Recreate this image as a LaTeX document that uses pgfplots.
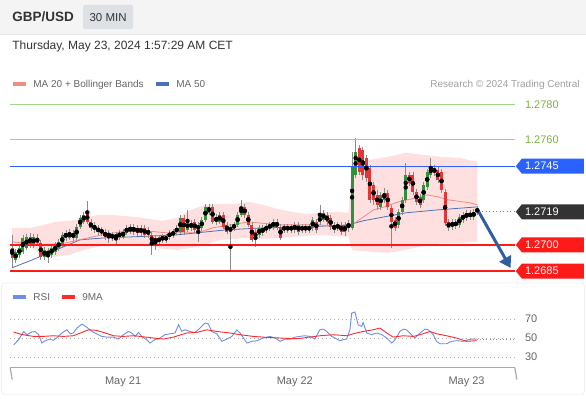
\documentclass[border=0pt]{standalone}
\usepackage{pgfplots}
\pgfplotsset{compat=1.18}
\usepackage{pgfplotstable}
\usetikzlibrary{arrows.meta}
\usepackage{fontspec}
\setmainfont{Liberation Sans}
\newcommand\fs[1]{\fontsize{#1}{#1}\selectfont}
\definecolor{hdrbg}{HTML}{F4F4F4}
\definecolor{panel}{HTML}{E4E8ED}
\definecolor{txtdark}{HTML}{333333}
\definecolor{txtgray}{HTML}{666666}
\definecolor{txtlight}{HTML}{A0A0A0}
\definecolor{tagbg}{HTML}{DDE1E6}
\definecolor{greenline}{HTML}{A0D585}
\definecolor{greentxt}{HTML}{7CB342}
\definecolor{levelblue}{HTML}{2962FF}
\definecolor{levelred}{HTML}{FF1A1A}
\definecolor{tagdark}{HTML}{333333}
\definecolor{candG}{HTML}{2F923A}
\definecolor{candR}{HTML}{E23636}
\definecolor{wick}{HTML}{8A8A8A}
\definecolor{bandfill}{HTML}{FFE0E0}
\definecolor{maTwenty}{HTML}{F28B82}
\definecolor{maFifty}{HTML}{4A72B8}
\definecolor{arrowblue}{HTML}{2E5FA3}
\definecolor{rsiblue}{HTML}{6D8FE8}
\definecolor{rsired}{HTML}{FF2A2A}
\definecolor{gridcol}{HTML}{B0B0B0}
\definecolor{axisgray}{HTML}{AAAAAA}

\pgfplotstableread{
i o h l c
0 1.26983 1.27057 1.26874 1.26926
1 1.26914 1.26977 1.26897 1.26960
2 1.26943 1.27000 1.26926 1.26983
3 1.26960 1.27057 1.26949 1.27040
4 1.26983 1.27063 1.26971 1.27046
5 1.27046 1.27069 1.26983 1.27000
6 1.27000 1.27063 1.26983 1.27046
7 1.27040 1.27063 1.26994 1.27011
8 1.27011 1.27029 1.26914 1.26931
9 1.26931 1.26989 1.26914 1.26971
10 1.26966 1.26983 1.26897 1.26943
11 1.26943 1.27000 1.26926 1.26983
12 1.26960 1.27017 1.26943 1.27000
13 1.26983 1.27034 1.26966 1.27017
14 1.27000 1.27074 1.26989 1.27057
15 1.27069 1.27086 1.27023 1.27040
16 1.27040 1.27091 1.27029 1.27074
17 1.27069 1.27086 1.27023 1.27040
18 1.27040 1.27120 1.27029 1.27103
19 1.27103 1.27171 1.27091 1.27154
20 1.27131 1.27189 1.27120 1.27171
21 1.27183 1.27251 1.27120 1.27131
22 1.27131 1.27149 1.27080 1.27097
23 1.27086 1.27131 1.27069 1.27114
24 1.27097 1.27114 1.27057 1.27074
25 1.27069 1.27103 1.27051 1.27086
26 1.27074 1.27091 1.27029 1.27046
27 1.27069 1.27086 1.27011 1.27046
28 1.27040 1.27074 1.27023 1.27057
29 1.27057 1.27074 1.27000 1.27040
30 1.27046 1.27086 1.27029 1.27069
31 1.27046 1.27091 1.27034 1.27074
32 1.27069 1.27114 1.27057 1.27097
33 1.27074 1.27120 1.27063 1.27103
34 1.27103 1.27120 1.27057 1.27074
35 1.27097 1.27114 1.27051 1.27069
36 1.27069 1.27114 1.27051 1.27097
37 1.27097 1.27114 1.27040 1.27057
38 1.27086 1.27103 1.27040 1.27057
39 1.27057 1.27074 1.26943 1.27011
40 1.27040 1.27057 1.26971 1.27011
41 1.27017 1.27057 1.27000 1.27040
42 1.27029 1.27063 1.27011 1.27046
43 1.27046 1.27063 1.27011 1.27029
44 1.27046 1.27086 1.27029 1.27069
45 1.27057 1.27091 1.27040 1.27074
46 1.27074 1.27114 1.27057 1.27097
47 1.27074 1.27171 1.27063 1.27154
48 1.27154 1.27171 1.27057 1.27074
49 1.27086 1.27200 1.27074 1.27131
50 1.27126 1.27143 1.27080 1.27097
51 1.27131 1.27149 1.27069 1.27086
52 1.27114 1.27131 1.27017 1.27086
53 1.27097 1.27160 1.27080 1.27143
54 1.27143 1.27234 1.27131 1.27217
55 1.27183 1.27234 1.27171 1.27217
56 1.27217 1.27234 1.27120 1.27131
57 1.27160 1.27177 1.27114 1.27131
58 1.27131 1.27189 1.27120 1.27171
59 1.27171 1.27189 1.27091 1.27103
60 1.27114 1.27131 1.27063 1.27074
61 1.27103 1.27120 1.26857 1.27074
62 1.27097 1.27131 1.27080 1.27114
63 1.27114 1.27189 1.27103 1.27171
64 1.27171 1.27257 1.27160 1.27217
65 1.27217 1.27234 1.27154 1.27171
66 1.27171 1.27189 1.27103 1.27114
67 1.27114 1.27131 1.27017 1.27029
68 1.27074 1.27091 1.26989 1.27040
69 1.27057 1.27114 1.27040 1.27097
70 1.27069 1.27114 1.27051 1.27097
71 1.27086 1.27120 1.27069 1.27103
72 1.27097 1.27131 1.27080 1.27114
73 1.27103 1.27149 1.27086 1.27131
74 1.27131 1.27149 1.27086 1.27103
75 1.27103 1.27120 1.27029 1.27040
76 1.27086 1.27120 1.27069 1.27103
77 1.27103 1.27120 1.27069 1.27086
78 1.27086 1.27120 1.27069 1.27103
79 1.27086 1.27131 1.27069 1.27114
80 1.27114 1.27131 1.27057 1.27074
81 1.27086 1.27120 1.27069 1.27103
82 1.27103 1.27120 1.27069 1.27086
83 1.27103 1.27120 1.27069 1.27086
84 1.27097 1.27160 1.27080 1.27143
85 1.27131 1.27149 1.27069 1.27086
86 1.27131 1.27229 1.27114 1.27160
87 1.27143 1.27200 1.27131 1.27183
88 1.27171 1.27189 1.27114 1.27131
89 1.27154 1.27171 1.27086 1.27103
90 1.27114 1.27131 1.27069 1.27086
91 1.27097 1.27131 1.27080 1.27114
92 1.27114 1.27131 1.27057 1.27074
93 1.27114 1.27131 1.27051 1.27074
94 1.27097 1.27143 1.27074 1.27126
95 1.27097 1.27531 1.27086 1.27446
96 1.27400 1.27611 1.27383 1.27531
97 1.27554 1.27571 1.27400 1.27417
98 1.27543 1.27560 1.27371 1.27400
99 1.27497 1.27514 1.27360 1.27383
100 1.27440 1.27457 1.27240 1.27257
101 1.27343 1.27360 1.27229 1.27257
102 1.27286 1.27314 1.27200 1.27229
103 1.27217 1.27303 1.27200 1.27286
104 1.27257 1.27326 1.27240 1.27297
105 1.27297 1.27314 1.27200 1.27217
106 1.27211 1.27229 1.26983 1.27131
107 1.27143 1.27160 1.27080 1.27097
108 1.27114 1.27206 1.27097 1.27189
109 1.27189 1.27274 1.27171 1.27257
110 1.27257 1.27469 1.27240 1.27400
111 1.27400 1.27417 1.27337 1.27354
112 1.27400 1.27417 1.27286 1.27303
113 1.27303 1.27320 1.27229 1.27246
114 1.27274 1.27291 1.27211 1.27229
115 1.27257 1.27360 1.27240 1.27343
116 1.27331 1.27434 1.27314 1.27417
117 1.27400 1.27497 1.27383 1.27446
118 1.27440 1.27457 1.27394 1.27411
119 1.27429 1.27446 1.27354 1.27371
120 1.27417 1.27434 1.27297 1.27314
121 1.27303 1.27320 1.27109 1.27126
122 1.27131 1.27149 1.27080 1.27097
123 1.27103 1.27149 1.27086 1.27131
124 1.27131 1.27149 1.27091 1.27109
125 1.27114 1.27177 1.27097 1.27160
126 1.27143 1.27189 1.27126 1.27171
127 1.27154 1.27200 1.27137 1.27183
128 1.27183 1.27200 1.27143 1.27160
129 1.27160 1.27206 1.27143 1.27189
130 1.27206 1.27223 1.27171 1.27189
}\candles

\pgfplotstableread{
i v
0 1.26869
5 1.26909
9 1.26943
14 1.26986
19 1.27029
26 1.27040
34 1.27046
46 1.27057
60 1.27086
70 1.27097
83 1.27103
94 1.27114
98 1.27137
104 1.27160
110 1.27183
119 1.27200
130 1.27217
}\maFiftyTab

\pgfplotstableread{
i v
0 1.27017
9 1.27000
15 1.27011
20 1.27034
25 1.27057
34 1.27086
43 1.27069
52 1.27069
56 1.27097
61 1.27114
66 1.27131
75 1.27114
86 1.27114
92 1.27103
95 1.27114
97 1.27143
101 1.27200
104 1.27217
108 1.27246
113 1.27269
116 1.27286
119 1.27274
122 1.27257
128 1.27240
130 1.27229
}\maTwentyTab

% Bollinger band outline: upper band left to right, then lower band right to left
\pgfplotstableread{
i v
0 1.27097
5 1.27097
8 1.27109
12 1.27131
16 1.27137
20 1.27154
24 1.27171
28 1.27171
34 1.27160
38 1.27149
42 1.27137
46 1.27154
50 1.27200
54 1.27229
58 1.27234
62 1.27234
66 1.27246
70 1.27229
74 1.27206
78 1.27189
82 1.27177
86 1.27183
90 1.27189
94 1.27183
95 1.27457
100 1.27486
105 1.27503
110 1.27526
115 1.27514
120 1.27503
125 1.27497
130 1.27474
130 1.27017
125 1.27011
120 1.27011
115 1.26994
110 1.26971
105 1.26954
100 1.26960
95 1.26971
94 1.27046
90 1.27051
86 1.27057
82 1.27051
78 1.27046
74 1.27040
70 1.27034
66 1.27040
62 1.27034
58 1.27029
54 1.27000
50 1.26983
46 1.26971
42 1.26977
38 1.27000
34 1.27006
28 1.27006
24 1.26989
20 1.26971
16 1.26943
12 1.26931
8 1.26943
5 1.26994
0 1.27011
}\bandPoly

\pgfplotstableread{
i v
0.4 42.9
1.8 48.2
3.2 56.9
4.1 53.5
5.5 56.3
6.4 56.9
7.4 53.5
8.3 44.7
9.2 47.2
10.6 48.9
11.5 47.5
12.9 51.7
13.9 55.3
15.3 58.7
16.2 54.5
17.1 55.3
18.1 60.5
19.5 64.7
20.9 61.2
22.3 56.9
23.7 54.2
25.0 51.7
26.4 51.0
28.3 51.0
29.7 48.9
31.1 53.5
32.5 56.9
33.4 55.3
34.4 51.7
35.3 55.9
36.2 51.7
37.6 48.2
38.5 44.7
39.9 48.2
41.3 50.0
42.7 53.5
44.1 54.5
45.5 55.3
46.5 64.0
47.4 56.9
48.3 58.7
49.7 56.9
51.1 55.9
52.5 60.5
53.9 65.8
54.8 65.0
55.8 56.9
57.2 54.5
58.6 46.5
60.0 48.9
61.4 51.7
62.8 58.7
63.7 55.3
65.6 44.7
67.0 46.5
68.4 47.2
70.2 50.0
72.1 51.7
73.5 50.0
74.9 46.5
76.3 48.9
77.7 48.9
79.1 51.0
80.4 51.7
81.8 52.4
83.2 51.7
84.6 48.9
86.0 58.7
87.0 59.4
87.9 56.9
89.3 51.7
90.2 50.0
91.6 47.2
92.5 48.2
93.5 48.9
94.4 58.7
94.9 76.3
95.8 77.4
96.7 64.0
97.7 62.2
98.1 66.4
99.1 55.3
100.5 53.5
101.9 55.3
103.3 53.5
104.7 50.0
106.1 44.7
107.0 48.2
108.4 56.9
109.3 59.4
110.2 58.7
111.6 53.5
112.6 50.0
114.0 55.3
115.4 59.4
116.3 58.7
117.7 53.5
118.6 46.5
119.6 44.0
121.4 44.0
122.8 46.5
124.2 47.2
126.1 46.5
127.5 48.2
128.4 48.9
129.8 48.9
}\rsiTab

\pgfplotstableread{
i v
0.4 56.3
2.2 54.2
4.1 52.8
6.0 51.7
8.7 51.7
11.5 52.4
14.3 51.7
17.1 52.4
19.5 55.9
21.3 58.7
23.7 58.0
25.5 55.9
28.3 52.4
31.1 51.7
33.9 52.4
35.8 51.7
39.5 50.0
42.3 48.9
45.1 51.0
48.8 55.3
51.6 55.9
54.4 58.7
57.2 56.9
60.9 55.3
63.7 53.5
67.4 51.7
71.1 50.7
74.9 50.0
78.6 49.3
80.4 49.6
83.2 51.0
86.0 52.4
89.7 53.5
93.5 52.4
95.3 54.5
98.1 56.9
100.9 58.7
102.8 60.5
104.7 55.3
106.5 51.0
109.3 52.4
112.1 51.7
114.0 53.5
116.8 56.9
118.6 54.5
121.4 52.4
124.2 50.0
127.0 46.5
129.8 47.2
}\nineTab

\newcommand\pricetag[3]{%
  \begin{scope}[shift={(#1)}]
    \fill[#2] (1,0) -- (7,7.5) -- (69,7.5) -- (69,-7.5) -- (7,-7.5) -- cycle;
    \node[anchor=west, inner sep=0, text=white, font=\fs{11}] at (10,0) {#3};
  \end{scope}}

\begin{document}
\begin{tikzpicture}[x=1pt,y=1pt]
\fill[white] (0,0) rectangle (586,399);
% header
\fill[hdrbg] (0,365) rectangle (586,399);
\draw[panel] (0,365) -- (586,365);
\node[anchor=base west, inner sep=0, text=txtdark, font=\bfseries\fs{13.5}] at (12,377) {GBP/USD};
\fill[tagbg, rounded corners=1.5pt] (83,370) rectangle (133,394);
\node[anchor=base, inner sep=0, text=txtdark, font=\fs{11.5}] at (108,377.8) {30 MIN};
\node[anchor=base west, inner sep=0, text=txtdark, font=\fs{12}] at (12,349.7) {Thursday, May 23, 2024 1:57:29 AM CET};
% legend
\fill[maTwenty] (13,313) rectangle (26,317);
\node[anchor=base west, inner sep=0, text=txtgray, font=\fs{10}] at (33,311.4) {MA 20 + Bollinger Bands};
\fill[maFifty] (156,313) rectangle (169,317);
\node[anchor=base west, inner sep=0, text=txtgray, font=\fs{10}] at (176,311.4) {MA 50};
\node[anchor=base east, inner sep=0, text=txtlight, font=\fs{10}] at (580,311.4) {Research \textcopyright\ 2024 Trading Central};
% panels
\draw[panel, rounded corners=3pt] (1.5,4) rectangle (584.5,116);
\fill[rsiblue] (13,100) rectangle (26,104);
\node[anchor=base west, inner sep=0, text=txtgray, font=\fs{10}] at (33,98.4) {RSI};
\fill[rsired] (62,100) rectangle (75,104);
\node[anchor=base west, inner sep=0, text=txtgray, font=\fs{10}] at (82,98.4) {9MA};

% ---------------- price axis (prices shown in pips above 1.2700 internally)
\begin{axis}[at={(10pt,117pt)}, anchor=south west, scale only axis,
  width=505pt, height=187pt,
  xmin=-0.56, xmax=140.5, ymin=-21.14, ymax=85.71,
  y filter/.expression={(y-1.27)*10000},
  axis lines=none, xtick=\empty, ytick=\empty, clip=false, no markers]
\addplot[fill=bandfill, draw=none, forget plot] table[x=i,y=v]{\bandPoly};
\addplot[maFifty, line width=0.8pt, forget plot] table[x=i,y=v]{\maFiftyTab};
\addplot[maTwenty, line width=0.8pt, forget plot] table[x=i,y=v]{\maTwentyTab};
% wicks
\addplot[only marks, mark=none, forget plot, error bars/.cd, y dir=both, y explicit, error mark=none,
  error bar style={wick, line width=0.7pt}]
  table[x=i, y expr={0.5*(\thisrow{h}+\thisrow{l})}, y error expr={5000*(\thisrow{h}-\thisrow{l})}]{\candles};
% green bodies
\addplot[only marks, mark=none, forget plot, error bars/.cd, y dir=both, y explicit, error mark=none,
  error bar style={candG, line width=3pt}]
  table[x=i, y expr={\thisrow{c}>\thisrow{o} ? 0.5*(\thisrow{o}+\thisrow{c}) : nan},
        y error expr={5000*abs(\thisrow{c}-\thisrow{o})+0.15}]{\candles};
% red bodies
\addplot[only marks, mark=none, forget plot, error bars/.cd, y dir=both, y explicit, error mark=none,
  error bar style={candR, line width=3pt}]
  table[x=i, y expr={\thisrow{c}>\thisrow{o} ? nan : 0.5*(\thisrow{o}+\thisrow{c})},
        y error expr={5000*abs(\thisrow{c}-\thisrow{o})+0.15}]{\candles};
% levels
\addplot[greenline, line width=0.9pt, forget plot] coordinates {(-0.56,1.2780) (140.5,1.2780)};
\addplot[greenline, line width=0.9pt, forget plot] coordinates {(-0.56,1.2760) (140.5,1.2760)};
\addplot[levelblue, line width=1.2pt, forget plot] coordinates {(-0.56,1.2745) (140.5,1.2745)};
\addplot[levelred, line width=2pt, forget plot] coordinates {(-0.56,1.2700) (140.5,1.2700)};
\addplot[levelred, line width=2pt, forget plot] coordinates {(-0.56,1.2685) (140.5,1.2685)};
\addplot[gray, line width=0.8pt, dash pattern=on 1pt off 2.5pt, forget plot] coordinates {(130.4,1.27189) (140.5,1.27189)};
\coordinate (lvA) at (axis cs:140.5,80);
\coordinate (lvB) at (axis cs:140.5,60);
\coordinate (lvC) at (axis cs:140.5,45);
\coordinate (lvD) at (axis cs:140.5,18.9);
\coordinate (lvE) at (axis cs:140.5,0);
\coordinate (lvF) at (axis cs:140.5,-15);
% arrow
\draw[arrowblue, line width=3pt, -{Triangle[width=13pt,length=11pt]}] (axis cs:130.4,18.9) -- (axis cs:139.3,-13.2);
\end{axis}

% level labels and tags
\node[anchor=west, inner sep=0, text=greentxt, font=\fs{11}] at ([xshift=10pt]lvA) {1.2780};
\node[anchor=west, inner sep=0, text=greentxt, font=\fs{11}] at ([xshift=10pt]lvB) {1.2760};
\pricetag{lvC}{levelblue}{1.2745}
\pricetag{lvD}{tagdark}{1.2719}
\pricetag{lvE}{levelred}{1.2700}
\pricetag{lvF}{levelred}{1.2685}

% ---------------- RSI axis
\begin{axis}[at={(10pt,31pt)}, anchor=south west, scale only axis,
  width=505pt, height=63pt,
  xmin=-0.56, xmax=140.5, ymin=18.7, ymax=85,
  axis x line*=bottom, axis y line*=right, axis line style={draw=none},
  major tick length=0pt,
  xtick={31,79,127}, xticklabels={May 21,May 22,May 23},
  ytick={30,50,70}, yticklabels={30,50,70},
  ymajorgrids, grid style={gridcol, line width=0.7pt, dash pattern=on 0.8pt off 3.2pt},
  xticklabel style={font=\fs{11}, text=txtgray, anchor=base, yshift=-17pt},
  yticklabel style={font=\fs{11}, text=txtgray, anchor=west, inner sep=0pt, xshift=10pt},
  /pgf/number format/assume math mode=true,
  clip=false, no markers]
\addplot[rsiblue, line width=0.9pt, forget plot] table[x=i,y=v]{\rsiTab};
\addplot[rsired, line width=0.9pt, forget plot] table[x=i,y=v]{\nineTab};
\addplot[rsiblue, line width=0.8pt, dash pattern=on 0.8pt off 2.5pt, forget plot] coordinates {(129.8,48.9) (140.5,48.9)};
\draw[axisgray, line width=1.2pt] (rel axis cs:0,0) -- (rel axis cs:1,0);
\draw[axisgray, line width=1.2pt] (rel axis cs:0,0) -- ++(0,6pt);
\draw[axisgray, line width=1.2pt] (rel axis cs:1,0) -- ++(0,6pt);
\end{axis}
\end{tikzpicture}
\end{document}
